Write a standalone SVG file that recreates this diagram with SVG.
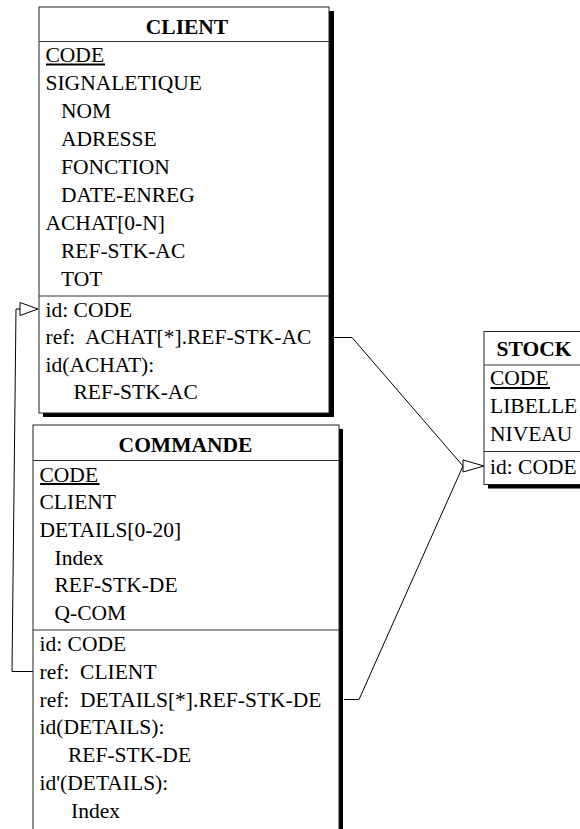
<svg xmlns="http://www.w3.org/2000/svg" width="580" height="829" viewBox="0 0 580 829">
<style>
.box{fill:#fff;stroke:#222;stroke-width:1}
.sh{fill:#000}
.sep{stroke:#333;stroke-width:1}
.t{font-family:"Liberation Serif","Times New Roman",serif;font-size:21.5px;fill:#000}
.ttl{font-family:"Liberation Serif","Times New Roman",serif;font-size:21.5px;font-weight:bold;fill:#000;text-anchor:middle}
.ul{stroke:#000;stroke-width:2}
.con{fill:none;stroke:#000;stroke-width:1}
.arr{fill:#fff;stroke:#000;stroke-width:1}
</style>
<rect width="580" height="829" fill="#fff"/>
<g id="connectors">
<polyline class="con" points="33,671.5 12,671.5 16,309 20,309"/>
<polygon class="arr" points="20,302.5 38,309 20,315.5"/>
<polyline class="con" points="334,337.5 352,337.5 463,466"/>
<polyline class="con" points="344,699.5 359,699.5 463,466"/>
<polygon class="arr" points="463,460 484,466 463,472"/>
</g>
<g id="client">
<rect class="sh" x="43" y="11" width="291" height="406"/>
<rect class="box" x="39" y="7" width="290" height="406"/>
<text class="ttl" x="187" y="34">CLIENT</text>
<line class="sep" x1="39" y1="41.5" x2="329" y2="41.5"/>
<text class="t" x="45.5" y="62">CODE</text>
<line class="ul" x1="46" y1="64.5" x2="105" y2="64.5"/>
<text class="t" x="45.5" y="90">SIGNALETIQUE</text>
<text class="t" x="61" y="118">NOM</text>
<text class="t" x="61" y="146">ADRESSE</text>
<text class="t" x="61" y="174">FONCTION</text>
<text class="t" x="61" y="202">DATE-ENREG</text>
<text class="t" x="45.5" y="230">ACHAT[0-N]</text>
<text class="t" x="61" y="258">REF-STK-AC</text>
<text class="t" x="61" y="286">TOT</text>
<line class="sep" x1="39" y1="296" x2="329" y2="296"/>
<text class="t" x="45.5" y="316.5">id: CODE</text>
<text class="t" x="45.5" y="344">ref:&#160; ACHAT[*].REF-STK-AC</text>
<text class="t" x="45.5" y="371.5">id(ACHAT):</text>
<text class="t" x="73.5" y="399">REF-STK-AC</text>
</g>
<g id="stock">
<rect class="sh" x="488" y="335.5" width="100" height="153"/>
<rect class="box" x="484" y="331.5" width="100" height="153"/>
<text class="ttl" x="534" y="356">STOCK</text>
<line class="sep" x1="484" y1="365" x2="584" y2="365"/>
<text class="t" x="490" y="385">CODE</text>
<line class="ul" x1="490.5" y1="388" x2="550" y2="388"/>
<text class="t" x="490" y="413">LIBELLE</text>
<text class="t" x="490" y="441">NIVEAU</text>
<line class="sep" x1="484" y1="451.5" x2="584" y2="451.5"/>
<text class="t" x="490" y="474">id: CODE</text>
</g>
<g id="commande">
<rect class="sh" x="37" y="429" width="306" height="420"/>
<rect class="box" x="33" y="425" width="306" height="420"/>
<text class="ttl" x="185.5" y="452">COMMANDE</text>
<line class="sep" x1="33" y1="460.5" x2="339" y2="460.5"/>
<text class="t" x="39.5" y="481.5">CODE</text>
<line class="ul" x1="40" y1="484" x2="99.5" y2="484"/>
<text class="t" x="39.5" y="509">CLIENT</text>
<text class="t" x="39.5" y="536.5">DETAILS[0-20]</text>
<text class="t" x="54.5" y="564.5">Index</text>
<text class="t" x="54.5" y="592">REF-STK-DE</text>
<text class="t" x="54.5" y="620">Q-COM</text>
<line class="sep" x1="33" y1="630" x2="339" y2="630"/>
<text class="t" x="39.5" y="650.5">id: CODE</text>
<text class="t" x="39.5" y="678.5">ref:&#160; CLIENT</text>
<text class="t" x="39.5" y="706.5">ref:&#160; DETAILS[*].REF-STK-DE</text>
<text class="t" x="39.5" y="734">id(DETAILS):</text>
<text class="t" x="68" y="762">REF-STK-DE</text>
<text class="t" x="39.5" y="789.5">id'(DETAILS):</text>
<text class="t" x="71" y="818">Index</text>
</g>
</svg>
